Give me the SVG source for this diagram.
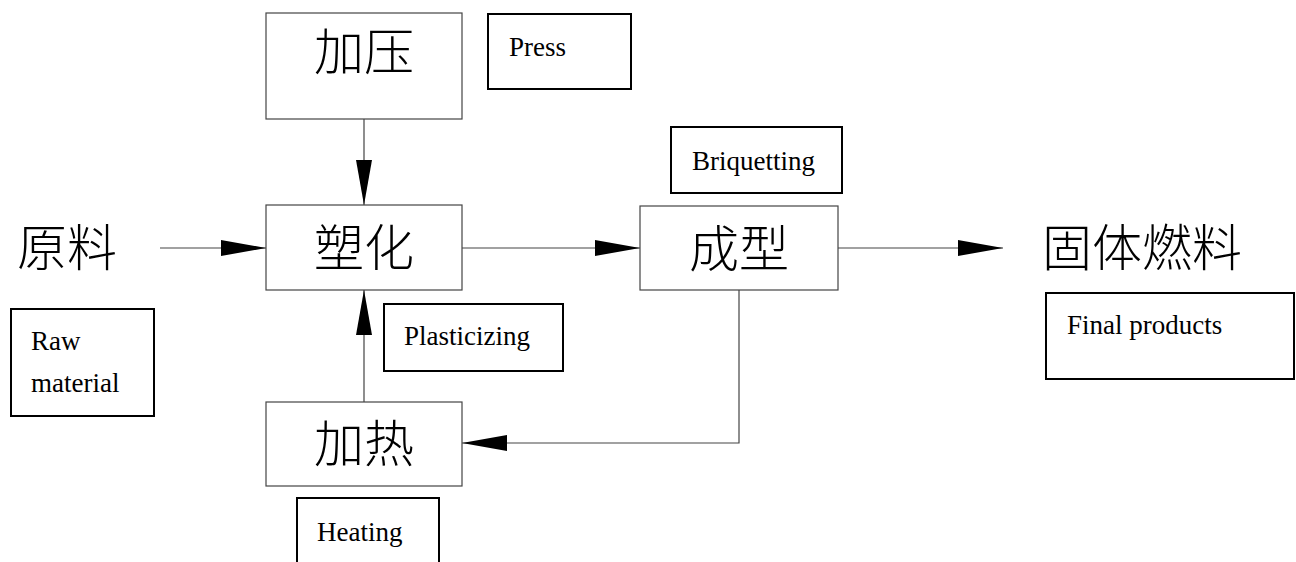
<svg xmlns="http://www.w3.org/2000/svg" width="1296" height="562" viewBox="0 0 1296 562">
<style>
.node{fill:#fff;stroke:#444;stroke-width:1.2}
.lbl{fill:#fff;stroke:#000;stroke-width:2}
.cn{font-family:"Noto Sans CJK SC","Noto Sans CJK JP",sans-serif;font-size:50px;font-weight:300;fill:#000}
.en{font-family:"Liberation Serif","Times New Roman",serif;font-size:27px;fill:#000}
.conn{fill:none;stroke:#444;stroke-width:1.2}
</style>
<defs>
<marker id="ah" markerUnits="userSpaceOnUse" markerWidth="46" markerHeight="16" refX="45" refY="8" orient="auto">
<path d="M0,0 L45,8 L0,16 z" fill="#000"/>
</marker>
</defs>
<rect width="1296" height="562" fill="#fff"/>
<g id="connectors">
<path class="conn" d="M364,119 V205" marker-end="url(#ah)"/>
<path class="conn" d="M160,248 H266" marker-end="url(#ah)"/>
<path class="conn" d="M462,248 H640" marker-end="url(#ah)"/>
<path class="conn" d="M838,248 H1003" marker-end="url(#ah)"/>
<path class="conn" d="M364,402 V290" marker-end="url(#ah)"/>
<path class="conn" d="M739,290 V443 H462" marker-end="url(#ah)"/>
</g>
<g id="n-press">
<rect class="node" x="266" y="13" width="196" height="106"/>
<text class="cn" x="364" y="70" text-anchor="middle">加压</text>
</g>
<g id="l-press">
<rect class="lbl" x="488" y="14" width="143" height="75"/>
<text class="en" x="509" y="56">Press</text>
</g>
<g id="n-raw">
<text class="cn" x="17" y="266">原料</text>
</g>
<g id="l-raw">
<rect class="lbl" x="11" y="309" width="143" height="107"/>
<text class="en" x="31" y="350">Raw</text>
<text class="en" x="31" y="392">material</text>
</g>
<g id="n-plastic">
<rect class="node" x="266" y="205" width="196" height="85"/>
<text class="cn" x="364" y="266" text-anchor="middle">塑化</text>
</g>
<g id="l-plastic">
<rect class="lbl" x="384" y="304" width="179" height="67"/>
<text class="en" x="404" y="345">Plasticizing</text>
</g>
<g id="n-brique">
<rect class="node" x="640" y="206" width="198" height="84"/>
<text class="cn" x="739" y="267" text-anchor="middle">成型</text>
</g>
<g id="l-brique">
<rect class="lbl" x="671" y="127" width="171" height="66"/>
<text class="en" x="692" y="170">Briquetting</text>
</g>
<g id="n-final">
<text class="cn" x="1042" y="266">固体燃料</text>
</g>
<g id="l-final">
<rect class="lbl" x="1046" y="293" width="248" height="86"/>
<text class="en" x="1067" y="334">Final products</text>
</g>
<g id="n-heat">
<rect class="node" x="266" y="402" width="196" height="84"/>
<text class="cn" x="364" y="462" text-anchor="middle">加热</text>
</g>
<g id="l-heat">
<rect class="lbl" x="297" y="498" width="142" height="90"/>
<text class="en" x="317" y="541">Heating</text>
</g>
</svg>
